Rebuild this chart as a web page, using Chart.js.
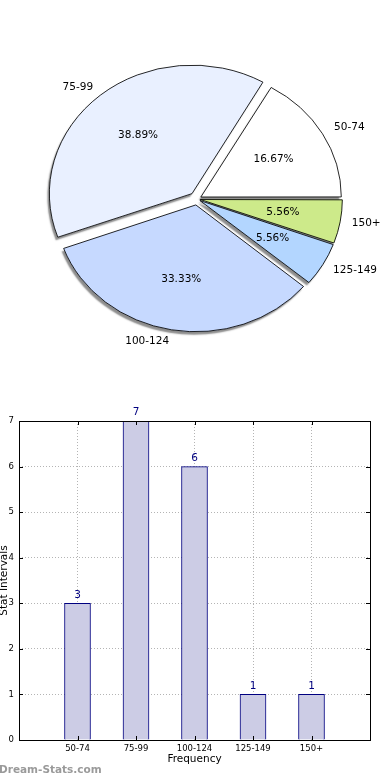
<!DOCTYPE html>
<html>
<head>
<meta charset="utf-8">
<script src="https://cdn.jsdelivr.net/npm/chart.js@4"></script>
<style>
  body { margin: 0; background: #fff; width: 390px; height: 780px; overflow: hidden; position: relative; }
  #pieWrap { position: absolute; left: 0; top: 0; width: 390px; height: 398px; }
  #barWrap { position: absolute; left: 0; top: 380px; width: 390px; height: 400px; }
  #mark { position: absolute; left: -1px; top: 763px; font: bold 10.5px "DejaVu Sans", sans-serif; color: #9a9a9a; }
</style>
</head>
<body>
<div id="pieWrap"><canvas id="pieChart"></canvas></div>
<div id="barWrap"><canvas id="barChart"></canvas></div>
<div id="mark">Dream-Stats.com</div>
<script>
// data, in the order of the original chart
const categories = ['50-74', '75-99', '100-124', '125-149', '150+'];
const counts = [3, 7, 6, 1, 1];
const sliceColors = ['#ffffff', '#e9f0ff', '#c6d9ff', '#b3d6ff', '#cdea8a'];
const explode = [16, 28, 24, 12, 12];
const yTicks = [0, 1, 2, 3, 4, 5, 6, 7];

const total = counts.reduce((a, b) => a + b, 0);
const FONT = '"DejaVu Sans", sans-serif';
const SX = 1.11; // pie is a bit wider than tall

// chart.js goes clockwise, the original goes counter clockwise -> reverse
const rev = arr => arr.slice().reverse();

// stretch the pie into an ellipse and put a drop shadow under all slices
const stretchPlugin = {
    id: 'stretch',
    beforeDatasetsDraw(chart) {
        const meta = chart.getDatasetMeta(0);
        const arc0 = meta.data[0];
        const ctx = chart.ctx;
        ctx.save();
        ctx.translate(arc0.x, arc0.y);
        ctx.scale(SX, 1);
        ctx.translate(-arc0.x, -arc0.y);
        // shadow pass, fill only
        ctx.save();
        ctx.shadowColor = 'rgba(0,0,0,0.45)';
        ctx.shadowBlur = 1.5;
        ctx.shadowOffsetX = -2;
        ctx.shadowOffsetY = 3;
        meta.data.forEach(arc => {
            const bw = arc.options.borderWidth;
            arc.options.borderWidth = 0;
            arc.draw(ctx);
            arc.options.borderWidth = bw;
        });
        ctx.restore();
    },
    afterDatasetsDraw(chart) {
        chart.ctx.restore();
    }
};

const pieLabels = {
    id: 'pieLabels',
    afterDraw(chart) {
        const ctx = chart.ctx;
        const meta = chart.getDatasetMeta(0);
        const labels = chart.data.labels;
        const vals = chart.data.datasets[0].data;
        ctx.save();
        ctx.font = '10.5px ' + FONT;
        ctx.fillStyle = '#000';
        ctx.textBaseline = 'middle';
        meta.data.forEach((arc, i) => {
            const p = arc.getProps(['x', 'y', 'startAngle', 'endAngle', 'outerRadius']);
            const mid = (p.startAngle + p.endAngle) / 2;
            const off = (arc.options.offset || 0) / 4;
            const c = Math.cos(mid), s = Math.sin(mid);
            const pos = k => [p.x + SX * (off + k * p.outerRadius) * c, p.y + (off + k * p.outerRadius) * s];
            let q = pos(1.1);
            ctx.textAlign = c > 0 ? 'left' : 'right';
            ctx.fillText(labels[i], q[0], q[1]);
            q = pos(0.6);
            ctx.textAlign = 'center';
            ctx.fillText((vals[i] / total * 100).toFixed(2) + '%', q[0], q[1]);
        });
        ctx.restore();
    }
};

new Chart(document.getElementById('pieChart'), {
    type: 'pie',
    data: {
        labels: rev(categories),
        datasets: [{
            data: rev(counts),
            backgroundColor: rev(sliceColors),
            borderColor: '#000',
            borderWidth: 0.8,
            offset: rev(explode)
        }]
    },
    options: {
        responsive: true,
        maintainAspectRatio: false,
        animation: false,
        events: [],
        rotation: 90,
        radius: 126,
        layout: { padding: { left: 4 } },
        plugins: { legend: { display: false }, tooltip: { enabled: false } }
    },
    plugins: [stretchPlugin, pieLabels]
});

// bar chart
const barValues = {
    id: 'barValues',
    afterDatasetsDraw(chart) {
        const ctx = chart.ctx;
        ctx.save();
        ctx.font = '10.5px ' + FONT;
        ctx.fillStyle = '#000080';
        ctx.textAlign = 'center';
        ctx.textBaseline = 'bottom';
        chart.getDatasetMeta(0).data.forEach((bar, i) => {
            ctx.fillText(String(counts[i]), bar.x, bar.y - 3);
        });
        ctx.restore();
    }
};

const frame = {
    id: 'frame',
    afterDraw(chart) {
        const a = chart.chartArea;
        const ctx = chart.ctx;
        ctx.save();
        ctx.strokeStyle = '#000';
        ctx.lineWidth = 1;
        ctx.strokeRect(Math.round(a.left) + 0.5, Math.round(a.top) + 0.5,
            Math.round(a.right - a.left), Math.round(a.bottom - a.top));
        // inward tick marks
        ctx.beginPath();
        const ys = chart.scales.y, xs = chart.scales.x;
        yTicks.forEach(t => {
            const y = Math.round(ys.getPixelForValue(t)) + 0.5;
            ctx.moveTo(a.left, y); ctx.lineTo(a.left + 4, y);
            ctx.moveTo(a.right, y); ctx.lineTo(a.right - 4, y);
        });
        categories.forEach((c, i) => {
            const x = Math.round(xs.getPixelForValue(i)) + 0.5;
            ctx.moveTo(x, a.bottom); ctx.lineTo(x, a.bottom - 4);
            ctx.moveTo(x, a.top); ctx.lineTo(x, a.top + 4);
        });
        ctx.stroke();
        ctx.restore();
    }
};

const gridColor = edge => c => (c.tick && edge.includes(c.tick.value)) ? 'rgba(0,0,0,0)' : '#b4b4b4';

new Chart(document.getElementById('barChart'), {
    type: 'bar',
    data: {
        datasets: [{
            data: counts.map((v, i) => ({ x: i, y: v })),
            backgroundColor: '#ccccE5',
            borderColor: '#000080',
            borderWidth: 1,
            barThickness: 26
        }]
    },
    options: {
        responsive: true,
        maintainAspectRatio: false,
        animation: false,
        events: [],
        layout: { padding: { top: 41, right: 20, left: 0, bottom: 14 } },
        plugins: { legend: { display: false }, tooltip: { enabled: false } },
        scales: {
            x: {
                type: 'linear',
                min: -1,
                max: 5,
                offset: false,
                z: 1,
                border: { display: false, dash: [1, 2] },
                grid: { color: gridColor([-1, 5]), offset: false, drawTicks: false },
                ticks: {
                    stepSize: 1,
                    padding: 4,
                    font: { family: FONT, size: 8.5 },
                    color: '#000',
                    maxRotation: 0,
                    autoSkip: false,
                    callback: v => categories[v] || ''
                },
                title: { display: true, text: 'Frequency', font: { family: FONT, size: 10.5 }, color: '#000', padding: { top: 1, bottom: 0 } },
                afterFit: s => { s.height = 26; }
            },
            y: {
                min: 0,
                max: 7,
                z: 1,
                border: { display: false, dash: [1, 2] },
                grid: { color: gridColor([0, 7]), drawTicks: false },
                ticks: {
                    stepSize: 1,
                    padding: 5,
                    font: { family: FONT, size: 8.5 },
                    color: '#000',
                    callback: v => yTicks.includes(v) ? String(v) : ''
                },
                title: { display: true, text: 'Stat Intervals', font: { family: FONT, size: 10.5 }, color: '#000', padding: { top: -2, bottom: 0 } },
                afterFit: s => { s.width = 19; }
            }
        }
    },
    plugins: [barValues, frame]
});
</script>
</body>
</html>
